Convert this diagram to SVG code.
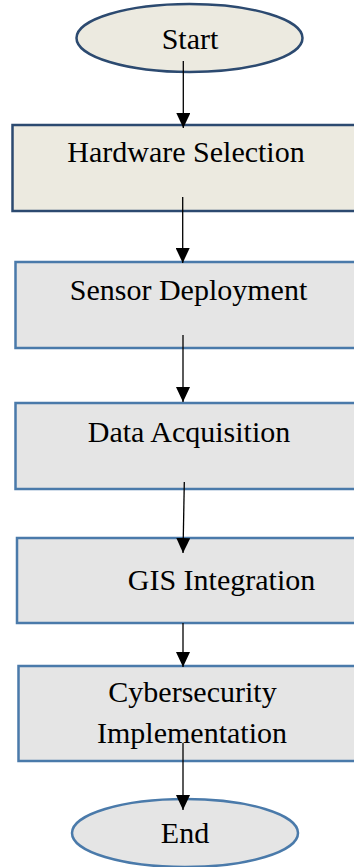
<svg xmlns="http://www.w3.org/2000/svg" width="354" height="867" viewBox="0 0 354 867">
<style>
text{font-family:"Liberation Serif","Times New Roman",serif;font-size:30px;fill:#000;text-anchor:middle}
.dark{fill:#ECEAE0;stroke:#2C4A70;stroke-width:2.5}
.blue{fill:#E5E5E5;stroke:#4A7AAA;stroke-width:2.5}
.conn line{stroke:#000;stroke-width:1.3;fill:none}
</style>
<defs>
<marker id="arr" viewBox="0 0 15 14" refX="15" refY="7" markerWidth="15" markerHeight="14" markerUnits="userSpaceOnUse" orient="auto">
<path d="M0,0 L15,7 L0,14 Z" fill="#000"/>
</marker>
</defs>
<g id="start"><ellipse class="dark" cx="189.5" cy="38" rx="113" ry="34"/><text x="190" y="49">Start</text></g>
<g id="hardware"><rect class="dark" x="12.5" y="125" width="360" height="86"/><text x="186" y="162">Hardware Selection</text></g>
<g id="sensor"><rect class="blue" x="15.5" y="262" width="360" height="86"/><text x="188.5" y="300">Sensor Deployment</text></g>
<g id="data"><rect class="blue" x="15.5" y="403" width="360" height="86"/><text x="189" y="442">Data Acquisition</text></g>
<g id="gis"><rect class="blue" x="17" y="538" width="360" height="85"/><text x="221.5" y="590">GIS Integration</text></g>
<g id="cyber"><rect class="blue" x="18.5" y="666" width="360" height="95"/><text x="192.5" y="702">Cybersecurity</text><text x="192" y="743">Implementation</text></g>
<g id="end"><ellipse class="blue" cx="185" cy="833" rx="113" ry="34"/><text x="185" y="843">End</text></g>
<g class="conn">
<line x1="183.3" y1="61" x2="183.3" y2="128" marker-end="url(#arr)"/>
<line x1="182.7" y1="197" x2="182.7" y2="263" marker-end="url(#arr)"/>
<line x1="183" y1="335" x2="183" y2="402" marker-end="url(#arr)"/>
<line x1="184.3" y1="482" x2="183" y2="553" marker-end="url(#arr)"/>
<line x1="183" y1="623" x2="183" y2="667" marker-end="url(#arr)"/>
<line x1="183" y1="743" x2="183" y2="810" marker-end="url(#arr)"/>
</g>
</svg>
